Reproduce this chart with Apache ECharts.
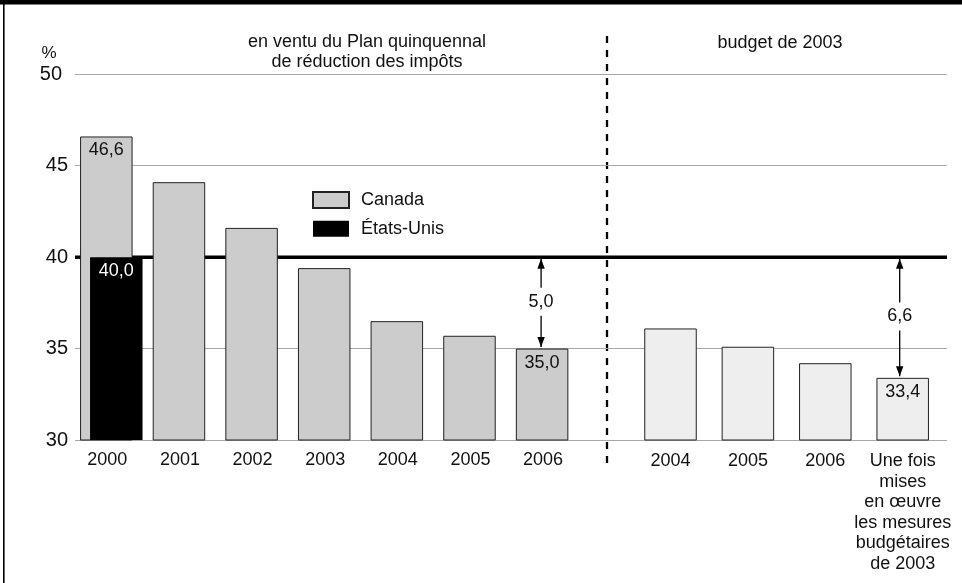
<!DOCTYPE html>
<html lang="fr">
<head>
<meta charset="utf-8">
<title>Taux d'imposition combinés</title>
<script src="https://cdn.jsdelivr.net/npm/echarts@6/dist/echarts.min.js"></script>
<style>
  html, body { margin: 0; padding: 0; background: #fff; }
  #chart { width: 962px; height: 583px; }
</style>
</head>
<body>
<div id="chart"></div>
<script>
// Plan quinquennal de réduction des impôts, 2000-2006 (%)
const yearsPlan = ['2000', '2001', '2002', '2003', '2004', '2005', '2006'];
const canadaPlan = [46.6, 44.1, 41.6, 39.4, 36.5, 35.7, 35.0];
// Niveau des États-Unis (%)
const usRate = 40.0;
// Budget de 2003 (%)
const budgetCats = ['2004', '2005', '2006', 'Une fois\nmises\nen œuvre\nles mesures\nbudgétaires\nde 2003'];
const canadaBudget = [36.1, 35.1, 34.2, 33.4];
// Axe des valeurs
const yMin = 30, yMax = 50, yStep = 5;

const FONT = '"Liberation Sans", Arial, Helvetica, sans-serif';
const INK = '#111';

const fmt = v => v.toFixed(1).replace('.', ',');

// Double-headed arrow showing the gap between two levels, with its value in the middle
function gapRenderer(dx) {
  return function (params, api) {
    const cat = api.value(0);
    const hi = api.value(1), lo = api.value(2);
    const pTop = api.coord([cat, hi]);
    const pBot = api.coord([cat, lo]);
    const x = pTop[0] + dx;
    const yT = pTop[1] + 1.5;
    const yB = pBot[1] - 1.5;
    const mid = (pTop[1] + pBot[1]) / 2 - 1;
    const head = 10, half = 3.7;
    const stroke = { stroke: '#000', lineWidth: 1.3 };
    return {
      type: 'group',
      children: [
        { type: 'line', shape: { x1: x, y1: yT, x2: x, y2: mid - 14 }, style: stroke },
        { type: 'line', shape: { x1: x, y1: mid + 14, x2: x, y2: yB }, style: stroke },
        { type: 'polygon', shape: { points: [[x, yT], [x - half, yT + head], [x + half, yT + head]] }, style: { fill: '#000' } },
        { type: 'polygon', shape: { points: [[x, yB], [x - half, yB - head], [x + half, yB - head]] }, style: { fill: '#000' } },
        {
          type: 'text',
          style: {
            text: fmt(hi - lo), x: x, y: mid,
            align: 'center', verticalAlign: 'middle',
            font: '18px ' + FONT, fill: INK
          }
        }
      ]
    };
  };
}

const barLabel = {
  position: 'insideTop', distance: 5,
  fontSize: 18, fontFamily: FONT, color: INK,
  formatter: p => fmt(p.value)
};

const plotTop = 74.3, plotBottom = 143;

const option = {
  animation: false,
  textStyle: { fontFamily: FONT },
  grid: [
    { left: 75, right: 15, top: plotTop, bottom: plotBottom },
    { left: 75, width: 508.4, top: plotTop, bottom: plotBottom },
    { left: 631.8, width: 309.6, top: plotTop, bottom: plotBottom }
  ],
  xAxis: [
    { gridIndex: 0, type: 'category', data: ['', ''], boundaryGap: false, show: false },
    {
      gridIndex: 1, type: 'category', data: yearsPlan,
      axisLine: { show: false }, axisTick: { show: false },
      axisLabel: { fontSize: 18, fontFamily: FONT, color: INK, margin: 11, padding: [0, 8, 0, 0] }
    },
    {
      gridIndex: 2, type: 'category', data: budgetCats,
      axisLine: { show: false }, axisTick: { show: false },
      axisLabel: { fontSize: 18, fontFamily: FONT, color: INK, margin: 11, lineHeight: 20.5, interval: 0 }
    }
  ],
  yAxis: [
    {
      gridIndex: 0, type: 'value', min: yMin, max: yMax, interval: yStep,
      axisLine: { show: false }, axisTick: { show: false },
      axisLabel: {
        fontSize: 20, fontFamily: FONT, color: INK, margin: 7,
        formatter: v => (v === yMax ? '{top|' + v + '}' : String(v)),
        rich: { top: { fontSize: 20, fontFamily: FONT, color: INK, padding: [0, 6, 0, 0] } }
      },
      splitLine: { lineStyle: { color: '#a8a8a8', width: 1.2 } }
    },
    { gridIndex: 1, type: 'value', min: yMin, max: yMax, interval: yStep, show: false, splitLine: { show: false } },
    { gridIndex: 2, type: 'value', min: yMin, max: yMax, interval: yStep, show: false, splitLine: { show: false } }
  ],
  legend: {
    orient: 'vertical', left: 307, top: 186,
    icon: 'rect',
    itemWidth: 36, itemHeight: 16, itemGap: 10.7,
    selectedMode: false,
    data: ['Canada', 'États-Unis'],
    textStyle: { fontSize: 18, fontFamily: FONT, color: INK, lineHeight: 16, padding: [0, 0, 0, 7] }
  },
  series: [
    {
      name: 'Niveau des États-Unis', type: 'line',
      xAxisIndex: 0, yAxisIndex: 0, z: 1, silent: true,
      symbol: 'none',
      lineStyle: { color: '#000', width: 3.5 },
      data: [usRate, usRate]
    },
    {
      name: 'Canada', type: 'bar', xAxisIndex: 1, yAxisIndex: 1, z: 3,
      barWidth: 52.5, barGap: '-81%',
      itemStyle: { color: '#cccccc', borderColor: '#222', borderWidth: 1 },
      label: barLabel,
      data: canadaPlan.map((v, i) => ({ value: v, label: { show: i === 0 || i === canadaPlan.length - 1 } }))
    },
    {
      name: 'États-Unis', type: 'bar', xAxisIndex: 1, yAxisIndex: 1, z: 3,
      barWidth: 52.5, barGap: '-81%',
      itemStyle: { color: '#000' },
      label: Object.assign({}, barLabel, { show: true, color: '#fff' }),
      data: yearsPlan.map((y, i) => (i === 0 ? usRate : null))
    },
    {
      name: 'Canada – budget de 2003', type: 'bar', xAxisIndex: 2, yAxisIndex: 2, z: 3,
      barWidth: 52.5,
      itemStyle: { color: '#eeeeee', borderColor: '#222', borderWidth: 1 },
      label: barLabel,
      data: canadaBudget.map((v, i) => ({ value: v, label: { show: i === canadaBudget.length - 1 } }))
    },
    {
      name: 'Écart plan', type: 'custom', xAxisIndex: 1, yAxisIndex: 1, z: 4, silent: true,
      renderItem: gapRenderer(-6),
      data: [[yearsPlan.length - 1, usRate, canadaPlan[canadaPlan.length - 1]]]
    },
    {
      name: 'Écart budget', type: 'custom', xAxisIndex: 2, yAxisIndex: 2, z: 4, silent: true,
      renderItem: gapRenderer(-3),
      data: [[budgetCats.length - 1, usRate, canadaBudget[canadaBudget.length - 1]]]
    }
  ],
  graphic: [
    { type: 'rect', shape: { x: 0, y: 0, width: 962, height: 4.5 }, style: { fill: '#000' }, silent: true },
    { type: 'rect', shape: { x: 3, y: 0, width: 1.6, height: 583 }, style: { fill: '#000' }, silent: true },
    {
      type: 'line', silent: true,
      shape: { x1: 607, y1: 36, x2: 607, y2: 467 },
      style: { stroke: '#000', lineWidth: 2.3, lineDash: [7, 7] }
    },
    {
      type: 'text', silent: true,
      style: {
        text: 'en ventu du Plan quinquennal\nde réduction des impôts',
        x: 367, y: 52, align: 'center', verticalAlign: 'middle',
        font: '18px ' + FONT, lineHeight: 19.4, fill: INK
      }
    },
    {
      type: 'text', silent: true,
      style: {
        text: 'budget de 2003', x: 780, y: 43.3, align: 'center', verticalAlign: 'middle',
        font: '18px ' + FONT, fill: INK
      }
    },
    {
      type: 'text', silent: true,
      style: { text: '%', x: 49, y: 53.5, align: 'center', verticalAlign: 'middle', font: '17px ' + FONT, fill: INK }
    }
  ]
};

const chart = echarts.init(document.getElementById('chart'), null, { renderer: 'canvas' });
chart.setOption(option);
</script>
</body>
</html>
